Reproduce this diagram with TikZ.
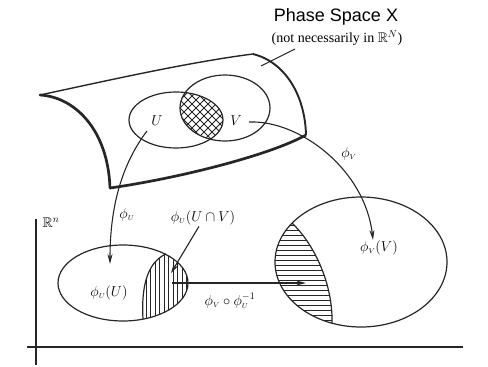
\documentclass[tikz,border=0pt]{standalone}
\usepackage{fontspec}
\usepackage{amssymb}
\setmainfont{Liberation Serif}
\newfontfamily\sansf{Liberation Sans}
\usetikzlibrary{arrows.meta}
\begin{document}
\begin{tikzpicture}[x=1pt,y=-1pt,
  ink/.style={draw=black!85},
  rim/.style={ink,line width=1.2pt},
  hatch/.style={ink,line width=0.8pt},
  arr/.style={ink,line width=1.1pt,-{Stealth[length=10pt,width=5pt]}},
  lbl/.style={inner sep=0pt,font=\fontsize{14}{16}\selectfont},
  slbl/.style={inner sep=0pt,font=\fontsize{14}{16}\selectfont}]
\useasboundingbox (0,0) rectangle (488,367);
% phase space surface
\draw[ink,line width=1.4pt] (40,95) .. controls (110,80) and (190,62) .. (253,54);
\draw[ink,line width=1.9pt] (253,54) .. controls (285,62) and (305,95) .. (306,135);
\draw[ink,line width=2.7pt] (306,135) .. controls (270,155) and (180,178) .. (110,188);
\draw[ink,line width=2.7pt,line cap=round] (110,188) .. controls (108,130) and (75,97) .. (40,95);
% crosshatched intersection
\begin{scope}
  \clip (176,120) ellipse [x radius=47, y radius=28];
  \clip (225,108) ellipse [x radius=45, y radius=33];
  \foreach \i in {-64,-56,...,64} {
    \draw[hatch] (200+\i-50,120-50) -- (200+\i+50,120+50);
    \draw[hatch] (200+\i-50,120+50) -- (200+\i+50,120-50);
  }
\end{scope}
\draw[rim] (176,120) ellipse [x radius=47, y radius=28];
\draw[rim] (225,108) ellipse [x radius=45, y radius=33];
\node[lbl] (U) at (157,121) {$U$};
\node[lbl] (V) at (236,121) {$V$};
% labels at top
\node[inner sep=0pt,font=\sansf\fontsize{18}{20}\selectfont] (title) at (336,17) {Phase Space X};
\node[lbl,anchor=north] (sub) at (337,30) {(not necessarily in $\mathbb{R}^N$)};
\coordinate (leadA) at (295,49);
\coordinate (leadB) at (261,66);
\draw[ink,line width=1pt] (leadA) -- (leadB);
% lower ellipses with hatching
\begin{scope}
  \clip (123,283) ellipse [x radius=65, y radius=38];
  \clip (143,319) .. controls (141,285) and (148,262) .. (166,254) -- (200,230) -- (200,330) -- cycle;
  \foreach \x in {146,150.5,...,192} \draw[hatch] (\x,240) -- (\x,330);
\end{scope}
\draw[rim] (143,319) .. controls (141,285) and (148,262) .. (166,254);
\draw[rim] (123,283) ellipse [x radius=65, y radius=38];
\begin{scope}
  \clip (361,262) ellipse [x radius=86, y radius=65];
  \clip (292,223) .. controls (315,245) and (333,285) .. (332,323) -- (260,340) -- (260,190) -- cycle;
  \foreach \y in {200,205,...,330} \draw[hatch] (265,\y) -- (340,\y);
\end{scope}
\draw[rim] (292,223) .. controls (315,245) and (333,285) .. (332,323);
\draw[rim] (361,262) ellipse [x radius=86, y radius=65];
\node[lbl] (phiUU) at (109,293) {$\phi_{\scriptscriptstyle U}(U)$};
\node[lbl] (phiVV) at (379,248) {$\phi_{\scriptscriptstyle V}(V)$};
\node[lbl] (phiUUV) at (203,218) {$\phi_{\scriptscriptstyle U}(U\cap V)$};
% arrows
\coordinate (uStart) at (147,131);
\coordinate (uEnd) at (110,264);
\draw[arr] (uStart) .. controls (125,160) and (110,200) .. (uEnd);
\node[slbl] (phiU) at (127,215) {$\phi_{\scriptscriptstyle U}$};
\coordinate (vStart) at (249,122);
\coordinate (vEnd) at (373,240);
\draw[arr] (vStart) .. controls (300,120) and (365,170) .. (vEnd);
\node[slbl] (phiV) at (349,154) {$\phi_{\scriptscriptstyle V}$};
\coordinate (tStart) at (172,283);
\coordinate (tEnd) at (306,283);
\draw[arr] (tStart) -- (tEnd);
\node[lbl] (trans) at (230,301) {$\phi_{\scriptscriptstyle V}\circ\phi_{\scriptscriptstyle U}^{-1}$};
\coordinate (iEnd) at (171,273);
\draw[arr] (phiUUV.south) ++(-4,1) -- (iEnd);
% axes
\coordinate (yTop) at (36,219);
\coordinate (yBot) at (36,365);
\coordinate (xL) at (27,347);
\coordinate (xR) at (463,347);
\draw[ink,line width=1.3pt] (yTop) -- (yBot);
\draw[ink,line width=1.3pt] (xL) -- (xR);
\node[lbl] (Rn) at (51,223) {$\mathbb{R}^n$};
\end{tikzpicture}
\end{document}
